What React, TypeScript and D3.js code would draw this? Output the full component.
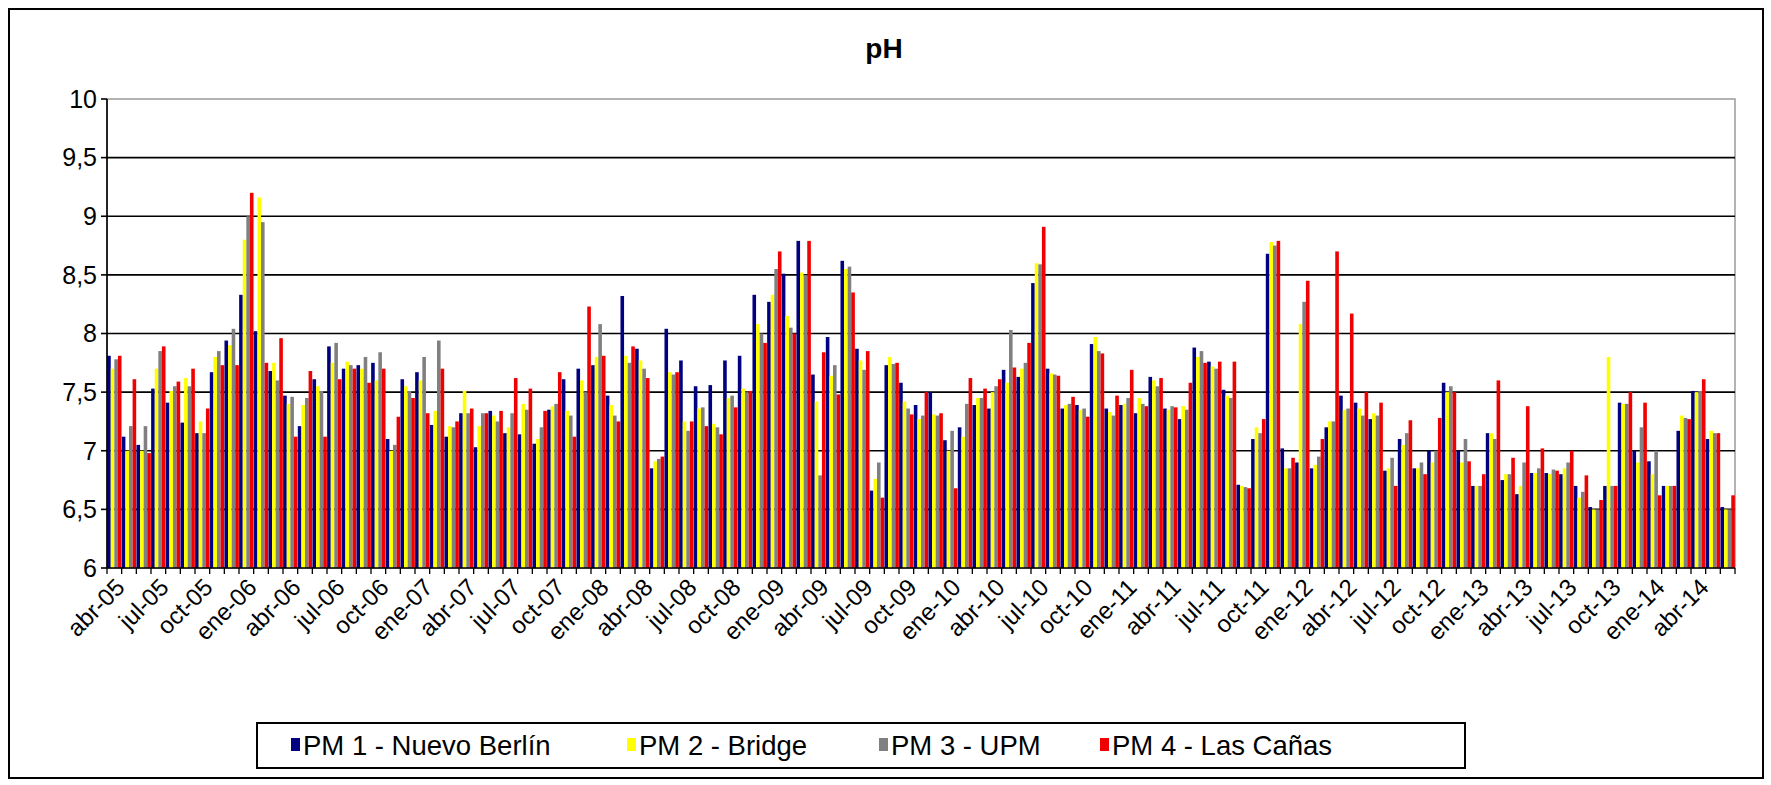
import React from 'react';
import * as d3 from 'd3';

const categories = [
  'abr-05','may-05','jun-05','jul-05','ago-05','sep-05','oct-05','nov-05','dic-05',
  'ene-06','feb-06','mar-06','abr-06','may-06','jun-06','jul-06','ago-06','sep-06','oct-06','nov-06','dic-06',
  'ene-07','feb-07','mar-07','abr-07','may-07','jun-07','jul-07','ago-07','sep-07','oct-07','nov-07','dic-07',
  'ene-08','feb-08','mar-08','abr-08','may-08','jun-08','jul-08','ago-08','sep-08','oct-08','nov-08','dic-08',
  'ene-09','feb-09','mar-09','abr-09','may-09','jun-09','jul-09','ago-09','sep-09','oct-09','nov-09','dic-09',
  'ene-10','feb-10','mar-10','abr-10','may-10','jun-10','jul-10','ago-10','sep-10','oct-10','nov-10','dic-10',
  'ene-11','feb-11','mar-11','abr-11','may-11','jun-11','jul-11','ago-11','sep-11','oct-11','nov-11','dic-11',
  'ene-12','feb-12','mar-12','abr-12','may-12','jun-12','jul-12','ago-12','sep-12','oct-12','nov-12','dic-12',
  'ene-13','feb-13','mar-13','abr-13','may-13','jun-13','jul-13','ago-13','sep-13','oct-13','nov-13','dic-13',
  'ene-14','feb-14','mar-14','abr-14','may-14','jun-14'
];

const pm1 = [
  7.81, 7.12, 7.05, 7.53, 7.41, 7.24, 7.15, 7.67, 7.94, 8.33,
  8.02, 7.68, 7.47, 7.21, 7.61, 7.89, 7.7, 7.73, 7.75, 7.1,
  7.61, 7.67, 7.22, 7.12, 7.32, 7.03, 7.34, 7.15, 7.14, 7.06,
  7.35, 7.61, 7.7, 7.73, 7.47, 8.32, 7.87, 6.85, 8.04, 7.77,
  7.55, 7.56, 7.77, 7.81, 8.33, 8.27, 8.51, 8.79, 7.65, 7.97,
  8.62, 7.87, 6.66, 7.73, 7.58, 7.39, 7.5, 7.09, 7.2, 7.39,
  7.36, 7.69, 7.63, 8.43, 7.7, 7.36, 7.39, 7.91, 7.36, 7.39,
  7.32, 7.63, 7.36, 7.27, 7.88, 7.76, 7.52, 6.71, 7.1, 8.68,
  7.02, 6.9, 6.85, 7.2, 7.47, 7.41, 7.27, 6.83, 7.1, 6.85,
  7.0, 7.58, 7.0, 6.7, 7.15, 6.75, 6.63, 6.81, 6.81, 6.8,
  6.7, 6.52, 6.7, 7.41, 7.0, 6.91, 6.7, 7.17, 7.51, 7.1,
  6.52
];
const pm2 = [
  7.7, 7.0, 7.0, 7.7, 7.51, 7.62, 7.25, 7.8, 7.9, 8.8,
  9.16, 7.75, 7.4, 7.39, 7.55, 7.75, 7.76, 7.7, 7.6, 7.0,
  7.55, 7.6, 7.34, 7.21, 7.51, 7.21, 7.3, 7.2, 7.4, 7.1,
  7.38, 7.34, 7.6, 7.8, 7.39, 7.81, 7.77, 6.91, 7.67, 7.25,
  7.36, 7.23, 7.45, 7.53, 8.08, 8.33, 8.15, 8.52, 7.42, 7.64,
  8.55, 7.77, 6.76, 7.8, 7.42, 7.27, 7.31, 7.0, 7.12, 7.45,
  7.5, 7.58, 7.7, 8.6, 7.66, 7.39, 7.35, 7.97, 7.33, 7.4,
  7.45, 7.6, 7.35, 7.38, 7.8, 7.72, 7.47, 6.7, 7.2, 8.78,
  6.85, 8.08, 6.88, 7.25, 7.35, 7.36, 7.32, 6.85, 7.05, 6.85,
  6.9, 7.5, 6.9, 6.7, 7.15, 6.8, 6.7, 6.81, 6.8, 6.85,
  6.6, 6.5, 7.8, 7.4, 6.9, 6.8, 6.7, 7.3, 7.5, 7.17,
  6.5
];
const pm3 = [
  7.78, 7.21, 7.21, 7.85, 7.55, 7.55, 7.15, 7.85, 8.04, 9.0,
  8.95, 7.6, 7.46, 7.45, 7.51, 7.92, 7.73, 7.8, 7.84, 7.05,
  7.51, 7.8, 7.94, 7.2, 7.32, 7.32, 7.25, 7.32, 7.35, 7.2,
  7.4, 7.3, 7.5, 8.08, 7.3, 7.75, 7.7, 6.93, 7.65, 7.17,
  7.37, 7.2, 7.47, 7.5, 8.0, 8.55, 8.05, 8.5, 6.79, 7.73,
  8.57, 7.69, 6.9, 7.74, 7.36, 7.3, 7.3, 7.17, 7.4, 7.45,
  7.55, 8.03, 7.75, 8.59, 7.65, 7.4, 7.36, 7.85, 7.3, 7.45,
  7.4, 7.55, 7.38, 7.35, 7.85, 7.7, 7.45, 6.69, 7.15, 8.75,
  6.85, 8.27, 6.95, 7.25, 7.36, 7.3, 7.3, 6.94, 7.15, 6.9,
  7.0, 7.55, 7.1, 6.7, 7.1, 6.8, 6.9, 6.85, 6.84, 6.9,
  6.65, 6.5, 6.7, 7.4, 7.2, 7.0, 6.7, 7.28, 7.51, 7.15,
  6.5
];
const pm4 = [
  7.81, 7.61, 6.98, 7.89, 7.59, 7.7, 7.36, 7.73, 7.73, 9.2,
  7.75, 7.96, 7.12, 7.68, 7.12, 7.61, 7.7, 7.58, 7.7, 7.29,
  7.45, 7.32, 7.7, 7.25, 7.36, 7.32, 7.34, 7.62, 7.53, 7.34,
  7.67, 7.12, 8.23, 7.81, 7.25, 7.89, 7.62, 6.95, 7.67, 7.25,
  7.21, 7.14, 7.37, 7.51, 7.92, 8.7, 8.0, 8.79, 7.84, 7.48,
  8.35, 7.85, 6.6, 7.75, 7.31, 7.5, 7.32, 6.68, 7.62, 7.53,
  7.61, 7.71, 7.92, 8.91, 7.64, 7.46, 7.29, 7.83, 7.47, 7.69,
  7.38, 7.62, 7.37, 7.58, 7.75, 7.76, 7.76, 6.68, 7.27, 8.79,
  6.94, 8.45, 7.1, 8.7, 8.17, 7.5, 7.41, 6.7, 7.26, 6.8,
  7.28, 7.5, 6.91, 6.8, 7.6, 6.94, 7.38, 7.02, 6.83, 7.0,
  6.79, 6.58, 6.7, 7.5, 7.41, 6.62, 6.7, 7.27, 7.61, 7.15,
  6.62
];

const seriesNames = ['PM 1 - Nuevo Berlín', 'PM 2 - Bridge', 'PM 3 - UPM', 'PM 4 - Las Cañas'];
const seriesColors = ['#000080', '#FFFF00', '#808080', '#F00000'];
const seriesValues = [pm1, pm2, pm3, pm4];
const yTicks = [6, 6.5, 7, 7.5, 8, 8.5, 9, 9.5, 10];
const yTickLabels = ['6', '6,5', '7', '7,5', '8', '8,5', '9', '9,5', '10'];
const title = 'pH';

const W = 1771;
const H = 785;
const FONT = 'Arial, "Liberation Sans", sans-serif';

export default function App() {
  const left = 107, right = 1735, top = 99, bottom = 568;
  const x = d3.scaleBand<string>().domain(categories).range([left, right]).paddingInner(0).paddingOuter(0);
  const x1 = d3.scaleBand<number>().domain([0, 1, 2, 3]).range([0, x.bandwidth()]).paddingInner(0).paddingOuter(0.04);
  const y = d3.scaleLinear().domain([6, 10]).range([bottom, top]);

  const legendX = 257, legendY = 723, legendW = 1208, legendH = 45;
  const legendItemX = [291, 627, 879, 1100];

  return (
    <svg width={W} height={H} style={{ position: 'absolute', left: 0, top: 0, background: '#fff' }} fontFamily={FONT}>
      <rect x={0} y={0} width={W} height={H} fill="#fff" />
      <rect x={9} y={9} width={1754} height={769} fill="none" stroke="#000" strokeWidth={2} />
      <text x={884} y={58} textAnchor="middle" fontSize={28} fontWeight="bold">{title}</text>

      {/* plot area border */}
      <rect x={left} y={top} width={right - left} height={bottom - top} fill="none" stroke="#9a9a9a" strokeWidth={1.5} />
      {yTicks.filter(t => t > 6 && t < 10).map(t => (
        <line key={'g' + t} x1={left} x2={right} y1={y(t)} y2={y(t)} stroke="#000" strokeWidth={1.6} />
      ))}

      {/* bars */}
      {categories.map((c, i) => (
        <g key={c} transform={`translate(${x(c)},0)`}>
          {seriesValues.map((vals, s) => (
            <rect key={s} x={x1(s)} y={y(vals[i])} width={x1.bandwidth()} height={bottom - y(vals[i])} fill={seriesColors[s]} />
          ))}
        </g>
      ))}

      {/* axes */}
      <line x1={left} x2={left} y1={top} y2={bottom} stroke="#000" strokeWidth={1.6} />
      <line x1={left} x2={right} y1={bottom} y2={bottom} stroke="#000" strokeWidth={1.6} />
      {yTicks.map((t, i) => (
        <g key={'yt' + t}>
          <line x1={left - 6} x2={left} y1={y(t)} y2={y(t)} stroke="#000" strokeWidth={1.6} />
          <text x={left - 10} y={y(t)} dy="0.35em" textAnchor="end" fontSize={25}>{yTickLabels[i]}</text>
        </g>
      ))}
      {categories.map((c) => (
        <line key={'xt' + c} x1={(x(c) as number)} x2={(x(c) as number)} y1={bottom} y2={bottom + 6} stroke="#000" strokeWidth={1.3} />
      ))}
      <line x1={right} x2={right} y1={bottom} y2={bottom + 6} stroke="#000" strokeWidth={1.3} />
      {categories.map((c, i) => i % 3 === 0 ? (
        <text key={'xl' + c} transform={`translate(${(x(c) as number) + x.bandwidth() / 2},${bottom + 9}) rotate(-45)`} textAnchor="end" dy="0.7em" fontSize={24}>{c}</text>
      ) : null)}

      {/* legend */}
      <rect x={legendX} y={legendY} width={legendW} height={legendH} fill="#fff" stroke="#000" strokeWidth={2} />
      {seriesNames.map((n, s) => (
        <g key={n}>
          <rect x={legendItemX[s]} y={legendY + 15} width={9} height={13} fill={seriesColors[s]} />
          <text x={legendItemX[s] + 12} y={legendY + 32} fontSize={27.5}>{n}</text>
        </g>
      ))}
    </svg>
  );
}
